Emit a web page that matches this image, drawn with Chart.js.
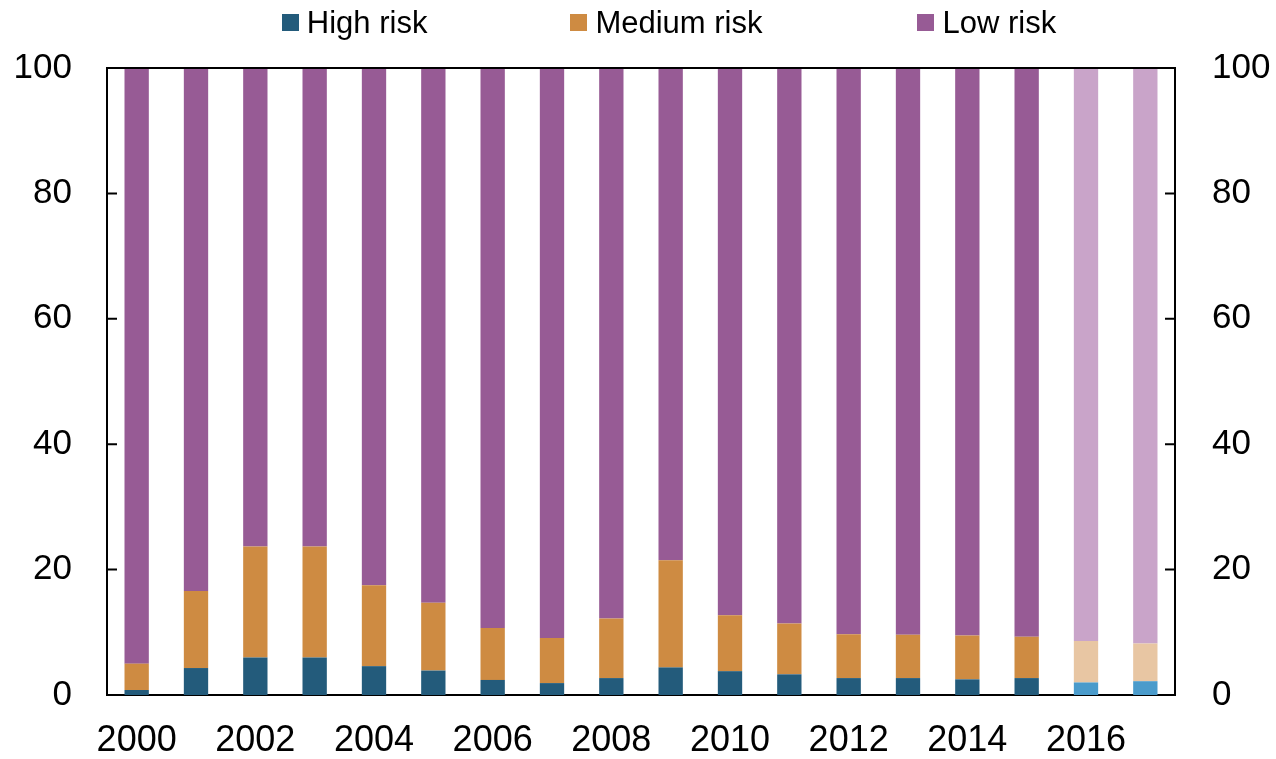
<!DOCTYPE html>
<html>
<head>
<meta charset="utf-8">
<script src="https://cdn.jsdelivr.net/npm/chart.js@4/dist/chart.umd.min.js"></script>
<style>
    html, body { margin: 0; padding: 0; background: #fff; }
    #wrap { position: relative; width: 1276px; height: 759px; }
    #legend {
        position: absolute; top: 0; left: 0; width: 1276px; height: 45px;
        box-sizing: border-box; padding-left: 62px;
        display: flex; justify-content: center; align-items: center;
        font-family: 'Liberation Sans', Arial, sans-serif; font-size: 31px; color: #000;
    }
    #legend .item { display: flex; align-items: center; }
    #legend .item + .item { margin-left: 143px; }
    #legend .item:last-child { margin-left: 155px; }
    #legend .box { width: 17px; height: 17px; margin-right: 8px; }
</style>
</head>
<body>
<div id="wrap">
    <div id="legend"></div>
    <canvas id="chart"></canvas>
</div>
<script>
const years = [2000, 2001, 2002, 2003, 2004, 2005, 2006, 2007, 2008,
    2009, 2010, 2011, 2012, 2013, 2014, 2015, 2016, 2017];
const highRisk = [0.8, 4.3, 6.0, 6.0, 4.6, 3.9, 2.4, 1.9, 2.7,
    4.4, 3.8, 3.3, 2.7, 2.7, 2.5, 2.7, 2.0, 2.2];
const mediumRisk = [4.2, 12.3, 17.7, 17.7, 12.9, 10.8, 8.3, 7.2, 9.5,
    17.1, 8.9, 8.1, 7.0, 6.9, 7.0, 6.6, 6.6, 6.0];
const lowRisk = [95.0, 83.4, 76.3, 76.3, 82.5, 85.3, 89.3, 90.9, 87.8,
    78.5, 87.3, 88.6, 90.3, 90.4, 90.5, 90.7, 91.4, 91.8];
const yTicks = [0, 20, 40, 60, 80, 100];

// last two years are shown in paler shades
const firstPale = years.indexOf(2016);
const FONT = "'Liberation Sans', Arial, sans-serif";

function shade(dark, pale) {
    return ctx => (ctx.dataIndex !== undefined && ctx.dataIndex >= firstPale) ? pale : dark;
}

const series = [
    { label: 'High risk', data: highRisk, dark: '#235b7b', pale: '#4a9bcb' },
    { label: 'Medium risk', data: mediumRisk, dark: '#ce8b42', pale: '#e8c6a3' },
    { label: 'Low risk', data: lowRisk, dark: '#975b95', pale: '#c9a4c9' }
];

// frame on top of the plot and inward tick marks on both value axes
const frameTicks = {
    id: 'frameTicks',
    afterDraw(chart) {
        const { ctx, chartArea: a } = chart;
        const y = chart.scales.y;
        ctx.save();
        ctx.strokeStyle = '#000';
        ctx.lineWidth = 2;
        ctx.beginPath();
        ctx.moveTo(a.left, a.top);
        ctx.lineTo(a.right, a.top);
        yTicks.forEach(v => {
            const py = y.getPixelForValue(v);
            ctx.moveTo(a.left, py);
            ctx.lineTo(a.left + 10, py);
            ctx.moveTo(a.right - 10, py);
            ctx.lineTo(a.right, py);
        });
        ctx.stroke();
        ctx.restore();
    }
};

const valueAxis = (position, pad, width) => ({
    position,
    min: 0,
    max: 100,
    stacked: true,
    grid: { display: false, drawTicks: false },
    border: { display: true, color: '#000', width: 2 },
    afterBuildTicks: s => { s.ticks = yTicks.map(v => ({ value: v })); },
    afterFit: s => { s.width = width; },
    ticks: { color: '#000', padding: pad, font: { family: FONT, size: 35 } }
});

const chart = new Chart(document.getElementById('chart'), {
    type: 'bar',
    data: {
        labels: years.map(String),
        datasets: series.map(s => ({
            label: s.label,
            data: s.data,
            backgroundColor: shade(s.dark, s.pale),
            borderWidth: 0,
            barPercentage: 0.41,
            categoryPercentage: 1,
            yAxisID: 'y'
        }))
    },
    options: {
        responsive: true,
        maintainAspectRatio: false,
        animation: false,
        layout: { padding: { top: 68, left: 0, right: 0, bottom: 0 } },
        plugins: {
            legend: { display: false },
            tooltip: { enabled: false }
        },
        scales: {
            x: {
                stacked: true,
                grid: { display: false, drawTicks: false },
                border: { display: true, color: '#000', width: 2 },
                afterFit: s => { s.height = 64; },
                ticks: {
                    color: '#000',
                    padding: 24,
                    autoSkip: false,
                    maxRotation: 0,
                    font: { family: FONT, size: 36 },
                    callback: (v, i) => (i % 2 === 0 ? years[i] : '')
                }
            },
            y: valueAxis('left', 35, 107),
            y2: valueAxis('right', 37, 101)
        }
    },
    plugins: [frameTicks]
});

// html legend built from the datasets
const legend = document.getElementById('legend');
series.forEach(s => {
    const item = document.createElement('div');
    item.className = 'item';
    const box = document.createElement('span');
    box.className = 'box';
    box.style.background = s.dark;
    const text = document.createElement('span');
    text.textContent = s.label;
    item.appendChild(box);
    item.appendChild(text);
    legend.appendChild(item);
});
</script>
</body>
</html>
